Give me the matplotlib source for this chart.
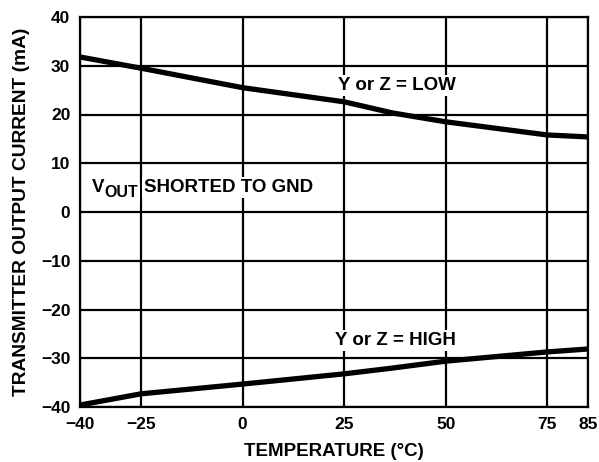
import matplotlib
matplotlib.use("Agg")
import matplotlib.pyplot as plt

plt.rcParams['font.family'] = ['Liberation Sans', 'DejaVu Sans']
plt.rcParams['font.weight'] = 'bold'

# Data
temp = [-40, -25, 0, 25, 37, 50, 75, 85]
i_low = [31.8, 29.5, 25.5, 22.6, 20.3, 18.5, 15.8, 15.4]
i_high = [-39.6, -37.3, -35.3, -33.2, -32.0, -30.6, -28.7, -28.1]

x_ticks = [-40, -25, 0, 25, 50, 75, 85]
y_ticks = [-40, -30, -20, -10, 0, 10, 20, 30, 40]

fig = plt.figure(figsize=(5.99, 4.62), dpi=100)
ax = fig.add_axes([80 / 599, 1 - 407 / 462, 508 / 599, 390 / 462])

ax.plot(temp, i_low, color='black', linewidth=3.8, solid_capstyle='butt', zorder=3)
ax.plot(temp, i_high, color='black', linewidth=3.8, solid_capstyle='butt', zorder=3)

ax.set_xlim(-40, 85)
ax.set_ylim(-40, 40)
ax.set_xticks(x_ticks)
ax.set_yticks(y_ticks)
ax.tick_params(length=0, labelsize=12.5, pad=7)
for lab in ax.get_xticklabels() + ax.get_yticklabels():
    lab.set_fontweight('bold')
ax.grid(True, color='black', linewidth=1.6)
for sp in ax.spines.values():
    sp.set_linewidth(1.6)

box = dict(facecolor='white', edgecolor='none', pad=1.5)
ax.text(23.5, 26.0, 'Y or Z = LOW', fontsize=13.5, fontweight='bold',
        va='center', ha='left', bbox=box, zorder=2)
ax.text(22.7, -26.3, 'Y or Z = HIGH', fontsize=13.5, fontweight='bold',
        va='center', ha='left', bbox=box, zorder=2)

# V_OUT SHORTED TO GND, built from pieces so the subscript stays large
t_v = ax.text(-37.2, 4.1, 'V', fontsize=13.5, fontweight='bold',
              va='baseline', ha='left', bbox=box, zorder=2)
t_out = ax.annotate('OUT', xy=(1, 0), xycoords=t_v, xytext=(0.5, -0.9),
                    textcoords='offset points', fontsize=11.5, fontweight='bold',
                    va='baseline', ha='left', bbox=box, zorder=2)
ax.annotate('SHORTED TO GND', xy=(1, 0), xycoords=t_out, xytext=(4.5, 6.2),
            textcoords='offset points', fontsize=13.5, fontweight='bold',
            va='baseline', ha='left', bbox=box, zorder=2)

ax.set_xlabel('TEMPERATURE (°C)', fontsize=13.5, fontweight='bold', labelpad=8)
ax.set_ylabel('TRANSMITTER OUTPUT CURRENT (mA)', fontsize=13.8, fontweight='bold', labelpad=8)

fig.savefig('out.png', dpi=100)
